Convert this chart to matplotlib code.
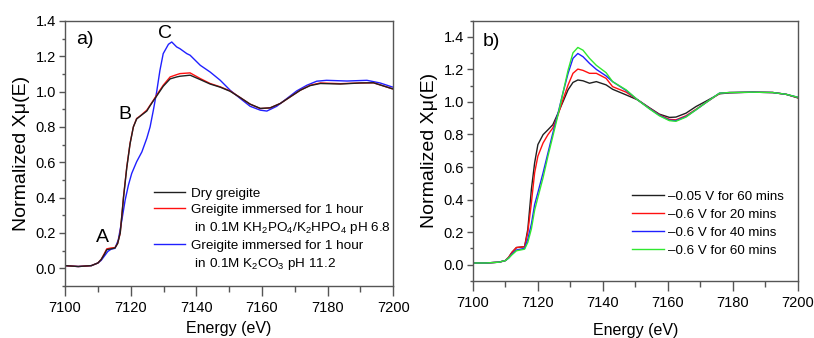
import matplotlib
matplotlib.use('Agg')
import matplotlib.pyplot as plt
from matplotlib.lines import Line2D
from matplotlib.ticker import MultipleLocator

plt.rcParams['font.family'] = ['Liberation Sans', 'DejaVu Sans']
plt.rcParams['mathtext.fontset'] = 'custom'
plt.rcParams['mathtext.rm'] = 'Liberation Sans'
plt.rcParams['mathtext.it'] = 'Liberation Sans:italic'

# %% panel a data
e_a = [7100, 7104, 7108, 7110, 7111, 7112, 7112.7, 7114, 7115.2, 7116, 7116.8, 7117.8,
       7118.8, 7119.8, 7120.8, 7121.8, 7122.8, 7124.9, 7125.9, 7126.9, 7127.9, 7129.9,
       7132, 7134, 7135, 7138.1, 7141.2, 7144.2, 7147.3, 7150.3, 7153.4, 7156.4, 7159.5,
       7162.5, 7165.6, 7168.6, 7171.7, 7174.7, 7177.8, 7183.9, 7190, 7194, 7199.6, 7200]
dry = [0.015, 0.01, 0.015, 0.03, 0.05, 0.08, 0.105, 0.11, 0.115, 0.14, 0.2, 0.4,
       0.57, 0.705, 0.8, 0.845, 0.86, 0.89, 0.92, 0.948, 0.975, 1.03,
       1.072, 1.083, 1.087, 1.093, 1.068, 1.043, 1.025, 1.002, 0.966, 0.929, 0.905,
       0.908, 0.933, 0.97, 1.008, 1.034, 1.046, 1.043, 1.049, 1.05, 1.017, 1.015]
phos = [0.015, 0.01, 0.015, 0.03, 0.05, 0.085, 0.11, 0.115, 0.117, 0.14, 0.2, 0.405,
        0.574, 0.708, 0.8, 0.848, 0.861, 0.895, 0.923, 0.951, 0.98, 1.036,
        1.083, 1.096, 1.102, 1.106, 1.074, 1.046, 1.027, 1.004, 0.966, 0.929, 0.904,
        0.908, 0.933, 0.97, 1.008, 1.036, 1.049, 1.045, 1.049, 1.05, 1.017, 1.015]

e_b = [7100, 7104, 7108, 7110, 7111, 7112, 7113, 7114, 7115.2, 7116.2, 7117.3, 7118.3,
       7119.3, 7120.3, 7121.8, 7123.4, 7124.9, 7125.9, 7126.9, 7127.9, 7128.9, 7129.9,
       7131.5, 7132.5, 7134, 7135, 7137.1, 7138.1, 7141.2, 7144.2, 7147.3, 7150.3,
       7153.4, 7156.4, 7159.5, 7161.5, 7164.5, 7167.6, 7170.6, 7173.7, 7176.7, 7179.7,
       7185.9, 7192, 7196, 7199.6, 7200]
carb = [0.015, 0.01, 0.015, 0.03, 0.045, 0.07, 0.095, 0.108, 0.113, 0.16, 0.273, 0.386,
        0.471, 0.537, 0.603, 0.659, 0.736, 0.8, 0.895, 0.998, 1.12, 1.215,
        1.268, 1.281, 1.253, 1.243, 1.215, 1.206, 1.149, 1.111, 1.064, 1.008,
        0.961, 0.917, 0.895, 0.89, 0.917, 0.961, 1.004, 1.036, 1.059, 1.064,
        1.06, 1.064, 1.049, 1.027, 1.025]

# %% panel b data
e_c = [7100, 7104, 7108, 7110, 7111, 7112, 7113.4, 7115.9, 7116.9, 7118, 7119, 7120,
       7121.6, 7123.1, 7124.6, 7126.2, 7127.7, 7129.3, 7130.8, 7132.3, 7133.9, 7135.9,
       7138, 7141, 7143, 7147.2, 7150.7, 7154.3, 7157.4, 7160.5, 7162.5, 7165.6, 7168.7,
       7171.8, 7175.9, 7179, 7186.1, 7192.3, 7196.4, 7200]
v005_60 = [0.01, 0.01, 0.015, 0.025, 0.045, 0.075, 0.105, 0.11, 0.218, 0.463, 0.626, 0.738,
           0.799, 0.829, 0.86, 0.931, 1.0, 1.075, 1.12, 1.135, 1.13, 1.115,
           1.125, 1.105, 1.078, 1.043, 1.013, 0.965, 0.925, 0.905, 0.907, 0.931, 0.972,
           1.005, 1.05, 1.056, 1.06, 1.058, 1.047, 1.025]
v06_20 = [0.01, 0.01, 0.015, 0.025, 0.045, 0.075, 0.105, 0.11, 0.2, 0.381, 0.565, 0.667,
          0.748, 0.799, 0.84, 0.921, 1.013, 1.105, 1.176, 1.202, 1.194, 1.176,
          1.176, 1.145, 1.094, 1.06, 1.013, 0.962, 0.921, 0.893, 0.89, 0.915, 0.955,
          0.997, 1.052, 1.058, 1.06, 1.058, 1.047, 1.027]
v06_40 = [0.01, 0.01, 0.015, 0.025, 0.04, 0.065, 0.09, 0.1, 0.157, 0.25, 0.37, 0.443,
          0.565, 0.687, 0.809, 0.931, 1.054, 1.176, 1.268, 1.298, 1.278, 1.237,
          1.2, 1.16, 1.125, 1.07, 1.013, 0.96, 0.918, 0.888, 0.885, 0.91, 0.952,
          0.997, 1.054, 1.058, 1.06, 1.058, 1.047, 1.029]
v06_60 = [0.01, 0.01, 0.015, 0.025, 0.04, 0.06, 0.085, 0.095, 0.137, 0.22, 0.335, 0.413,
          0.535, 0.667, 0.789, 0.921, 1.054, 1.196, 1.302, 1.335, 1.318, 1.268,
          1.225, 1.18, 1.125, 1.074, 1.013, 0.958, 0.915, 0.885, 0.881, 0.907, 0.952,
          0.997, 1.054, 1.058, 1.06, 1.058, 1.047, 1.029]

xticks = [7100, 7120, 7140, 7160, 7180, 7200]
spine_col = '#555555'

fig = plt.figure(figsize=(8.14, 3.38), dpi=100)
ax1 = fig.add_axes([0.080, 0.154, 0.403, 0.784])
ax2 = fig.add_axes([0.581, 0.169, 0.399, 0.770])


def style(ax, ylim, xpad):
    ax.set_xlim(7100, 7200)
    ax.set_ylim(*ylim)
    ax.set_xticks(xticks)
    ax.xaxis.set_minor_locator(MultipleLocator(10))
    ax.set_yticks([0.0, 0.2, 0.4, 0.6, 0.8, 1.0, 1.2, 1.4])
    ax.yaxis.set_minor_locator(MultipleLocator(0.1))
    ax.tick_params(axis='x', which='major', length=7, width=1, color=spine_col, labelsize=10.5, pad=4)
    ax.tick_params(axis='x', which='minor', length=4, width=1, color=spine_col)
    ax.tick_params(axis='y', which='major', length=4.5, width=1, color=spine_col, labelsize=10.5, pad=2)
    ax.tick_params(axis='y', which='minor', length=2.5, width=1, color=spine_col)
    for s in ax.spines.values():
        s.set_color(spine_col)
        s.set_linewidth(1)
    ax.set_xlabel('Energy (eV)', fontsize=11.5, labelpad=xpad)
    ax.set_ylabel('Normalized Xμ(E)', fontsize=14, labelpad=4)


ax1.plot(e_b, carb, color='#2020ff', lw=1)
ax1.plot(e_a, phos, color='#ff1010', lw=1)
ax1.plot(e_a, dry, color='#202020', lw=1)
style(ax1, (-0.1, 1.4), 4.5)
ax1.text(7106, 1.296, 'a)', fontsize=14, ha='center', va='center')
ax1.text(7130.5, 1.33, 'C', fontsize=14, ha='center', va='center')
ax1.text(7118.1, 0.87, 'B', fontsize=14, ha='center', va='center')
ax1.text(7111.4, 0.175, 'A', fontsize=14, ha='center', va='center')

blank = Line2D([], [], color='none')
h1 = [Line2D([], [], color='#202020', lw=1), Line2D([], [], color='#ff1010', lw=1), blank,
      Line2D([], [], color='#2020ff', lw=1), blank]
l1 = ['Dry greigite', 'Greigite immersed for 1 hour',
      ' in 0.1M KH$_2$PO$_4$/K$_2$HPO$_4$ pH 6.8',
      'Greigite immersed for 1 hour', ' in 0.1M K$_2$CO$_3$ pH 11.2']
ax1.legend(h1, l1, loc='upper left', bbox_to_anchor=(0.271, 0.372), frameon=False,
           fontsize=9.7, handlelength=2.3, handletextpad=0.45, labelspacing=0.28,
           borderpad=0, borderaxespad=0)

ax2.plot(e_c, v005_60, color='#202020', lw=1, label='\u20130.05 V for 60 mins')
ax2.plot(e_c, v06_20, color='#ff1010', lw=1, label='\u20130.6 V for 20 mins')
ax2.plot(e_c, v06_40, color='#2020ff', lw=1, label='\u20130.6 V for 40 mins')
ax2.plot(e_c, v06_60, color='#30e830', lw=1, label='\u20130.6 V for 60 mins')
style(ax2, (-0.1, 1.5), 9.5)
ax2.text(7105.7, 1.369, 'b)', fontsize=14, ha='center', va='center')
ax2.legend(loc='upper left', bbox_to_anchor=(0.49, 0.346), frameon=False,
           fontsize=9.6, handlelength=2.4, handletextpad=0.3, labelspacing=0.42,
           borderpad=0, borderaxespad=0)

fig.savefig('out.png', dpi=100)
